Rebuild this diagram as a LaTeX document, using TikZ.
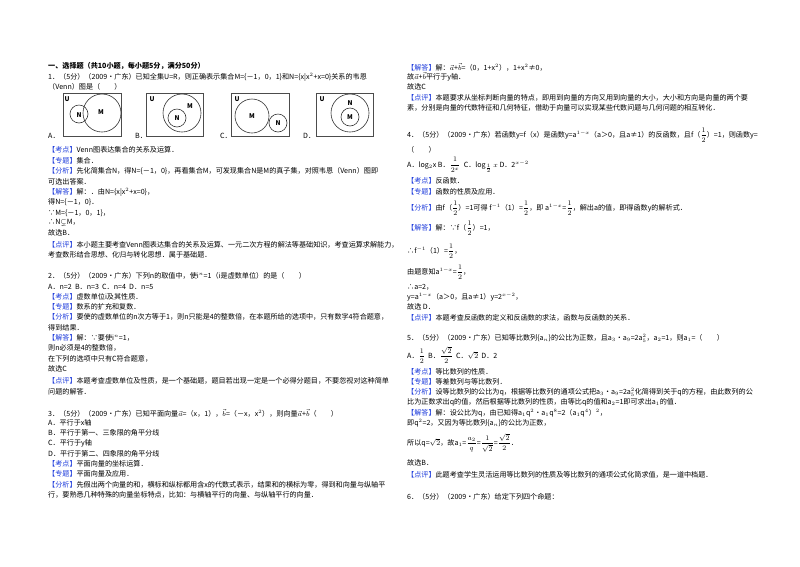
\documentclass[tikz,border=0pt]{standalone}
\usepackage{fontspec}
\setmainfont{Noto Sans CJK SC}
\usepackage{amsmath,amssymb}
\definecolor{kblue}{RGB}{30,60,220}
\newcommand\lb[1]{\textcolor{kblue}{【#1】}}
\newcommand\fs{\fontsize{7.1}{8}\selectfont}
\newcommand\hf{\tfrac{1}{2}}
\begin{document}
\begin{tikzpicture}[x=1pt,y=-1pt,
  t/.style={anchor=west,inner sep=0pt,font=\fs},
  vbox/.style={draw=black!70,line width=0.6pt},
  vc/.style={draw=black!80,line width=0.6pt},
  vl/.style={font=\fontsize{6.5}{7}\selectfont\itshape\bfseries,inner sep=0pt}]
\useasboundingbox[fill=white] (0,0) rectangle (800,566);
% left column
\node[t] (h0) at (48,66) {\bfseries 一、选择题（共10小题，每小题5分，满分50分）};
\node[t] (l1) at (48,77) {1．（5分）（2009•广东）已知全集U=R，则正确表示集合M=\{－1，0，1\}和N=\{x|x$^2$+x=0\}关系的韦恩};
\node[t] (l2) at (48,87) {（Venn）图是（　　）};
% Venn A
\node[t] (la) at (48,136) {A．};
\draw[vbox] (63,93) rectangle (121,136);
\draw[vc] (79,114) circle (9); \draw[vc] (102,113) circle (19);
\node[vl] (ua) at (67,99) {U}; \node[vl] (na) at (79,115) {N}; \node[vl] (ma) at (101,112) {M};
% Venn B
\node[t] (lbb) at (135,136) {B．};
\draw[vbox] (146,93) rectangle (203,136);
\draw[vc] (182,113) circle (19); \draw[vc] (177,118) circle (9);
\node[vl] (ub) at (152,99) {U}; \node[vl] (nb) at (177,118) {N}; \node[vl] (mb) at (190,106) {M};
% Venn C
\node[t] (lc) at (220,136) {C．};
\draw[vbox] (231,93) rectangle (289,136);
\draw[vc] (252,116) circle (17); \draw[vc] (278,123) circle (9);
\node[vl] (uc) at (237,99) {U}; \node[vl] (mc) at (252,116) {M}; \node[vl] (nc) at (278,123) {N};
% Venn D
\node[t] (ld) at (303,136) {D．};
\draw[vbox] (316,93) rectangle (373,136);
\draw[vc] (350,113) circle (19); \draw[vc] (350,117) circle (9);
\node[vl] (ud) at (322,99) {U}; \node[vl] (nd) at (350,103) {N}; \node[vl] (md) at (350,117) {M};
%
\node[t] (l3) at (48,150) {\lb{考点}Venn图表达集合的关系及运算．};
\node[t] (l4) at (48,161) {\lb{专题}集合．};
\node[t] (l5) at (48,171) {\lb{分析}先化简集合N，得N=\{－1，0\}，再看集合M，可发现集合N是M的真子集，对照韦恩（Venn）图即};
\node[t] (l6) at (48,182) {可选出答案．};
\node[t] (l7) at (48,192) {\lb{解答}解：．由N=\{x|x$^2$+x=0\}，};
\node[t] (l8) at (48,202) {得N=\{－1，0\}．};
\node[t] (l9) at (48,213) {∵M=\{－1，0，1\}，};
\node[t] (l10) at (48,223) {∴N$\subsetneq$M，};
\node[t] (l11) at (48,233) {故选B．};
\node[t] (l12) at (48,245) {\lb{点评}本小题主要考查Venn图表达集合的关系及运算、一元二次方程的解法等基础知识，考查运算求解能力，};
\node[t] (l13) at (48,255) {考查数形结合思想、化归与转化思想．属于基础题．};
\node[t] (l14) at (48,276) {2．（5分）（2009•广东）下列n的取值中，使i$^n$=1（i是虚数单位）的是（　　）};
\node[t] (l15) at (48,287) {A．n=2\ \ B．n=3\ \ C．n=4\ \ D．n=5};
\node[t] (l16) at (48,297) {\lb{考点}虚数单位i及其性质．};
\node[t] (l17) at (48,307) {\lb{专题}数系的扩充和复数．};
\node[t] (l18) at (48,317) {\lb{分析}要使的虚数单位的n次方等于1，则n只能是4的整数倍，在本题所给的选项中，只有数字4符合题意，};
\node[t] (l19) at (48,328) {得到结果．};
\node[t] (l20) at (48,338) {\lb{解答}解：∵要使i$^n$=1，};
\node[t] (l21) at (48,348) {则n必须是4的整数倍，};
\node[t] (l22) at (48,359) {在下列的选项中只有C符合题意，};
\node[t] (l23) at (48,369) {故选C};
\node[t] (l24) at (48,381) {\lb{点评}本题考查虚数单位及性质，是一个基础题，题目若出现一定是一个必得分题目，不要忽视对这种简单};
\node[t] (l25) at (48,392) {问题的解答．};
\node[t] (l26) at (48,413) {3．（5分）（2009•广东）已知平面向量$\vec a$=（x，1），$\vec b$=（－x，x$^2$），则向量$\vec a$+$\vec b$（　　）};
\node[t] (l27) at (48,423) {A．平行于x轴};
\node[t] (l28) at (48,433) {B．平行于第一、三象限的角平分线};
\node[t] (l29) at (48,443) {C．平行于y轴};
\node[t] (l30) at (48,454) {D．平行于第二、四象限的角平分线};
\node[t] (l31) at (48,464) {\lb{考点}平面向量的坐标运算．};
\node[t] (l32) at (48,474) {\lb{专题}平面向量及应用．};
\node[t] (l33) at (48,485) {\lb{分析}先假出两个向量的和，横标和纵标都用含x的代数式表示，结果和的横标为零，得到和向量与纵轴平};
\node[t] (l34) at (48,495) {行，要熟悉几种特殊的向量坐标特点，比如：与横轴平行的向量、与纵轴平行的向量．};
% right column
\node[t] (r1) at (407,67) {\lb{解答}解：$\vec a$+$\vec b$=（0，1+x$^2$），1+x$^2$≠0，};
\node[t] (r2) at (407,77) {故$\vec a$+$\vec b$平行于y轴．};
\node[t] (r3) at (407,87) {故选C};
\node[t] (r4) at (407,98) {\lb{点评}本题要求从坐标判断向量的特点，即用到向量的方向又用到向量的大小，大小和方向是向量的两个要};
\node[t] (r5) at (407,108) {素，分别是向量的代数特征和几何特征，借助于向量可以实现某些代数问题与几何问题的相互转化．};
\node[t] (r6) at (407,135) {4．（5分）（2009•广东）若函数y=f（x）是函数y=a$^{1-x}$（a＞0，且a≠1）的反函数，且f（$\dfrac12$）=1，则函数y=};
\node[t] (r7) at (407,150) {（　　）};
\node[t] (r8) at (407,165) {A．log$_2$x B．$\dfrac{1}{2^x}$\ \ C．$\log_{\frac12}x$\ D．2$^{x-2}$};
\node[t] (r9) at (407,181) {\lb{考点}反函数．};
\node[t] (r10) at (407,192) {\lb{专题}函数的性质及应用．};
\node[t] (r11) at (407,208) {\lb{分析}由f（$\dfrac12$）=1可得\ f$^{-1}$（1）=$\dfrac12$，即\ a$^{1-x}$=$\dfrac12$，解出a的值，即得函数y的解析式．};
\node[t] (r12) at (407,228) {\lb{解答}解：∵f（$\dfrac12$）=1，};
\node[t] (r13) at (407,251) {∴f$^{-1}$（1）=$\dfrac12$，};
\node[t] (r14) at (407,272) {由题意知a$^{1-x}$=$\dfrac12$，};
\node[t] (r15) at (407,287) {∴a=2，};
\node[t] (r16) at (407,297) {y=a$^{1-x}$（a＞0，且a≠1）y=2$^{x-2}$，};
\node[t] (r17) at (407,307) {故选\ D．};
\node[t] (r18) at (407,318) {\lb{点评}本题考查反函数的定义和反函数的求法，函数与反函数的关系．};
\node[t] (r19) at (407,338) {5．（5分）（2009•广东）已知等比数列\{a$_n$\}的公比为正数，且a$_3$•a$_9$=2a$_5^2$，a$_2$=1，则a$_1$=（　　）};
\node[t] (r20) at (407,355) {A．$\dfrac12$\ \ B．$\dfrac{\sqrt2}{2}$\ \ C．$\sqrt2$\ \ D．2};
\node[t] (r21) at (407,372) {\lb{考点}等比数列的性质．};
\node[t] (r22) at (407,382) {\lb{专题}等差数列与等比数列．};
\node[t] (r23) at (407,392) {\lb{分析}设等比数列的公比为q，根据等比数列的通项公式把a$_3$•a$_9$=2a$_5^2$化简得到关于q的方程，由此数列的公};
\node[t] (r24) at (407,402) {比为正数求出q的值，然后根据等比数列的性质，由等比q的值和a$_2$=1即可求出a$_1$的值．};
\node[t] (r25) at (407,413) {\lb{解答}解：设公比为q，由已知得a$_1$q$^2$•a$_1$q$^8$=2（a$_1$q$^4$）$^2$，};
\node[t] (r26) at (407,423) {即q$^2$=2，又因为等比数列\{a$_n$\}的公比为正数，};
\node[t] (r27) at (407,443) {所以q=$\sqrt2$，故a$_1$=$\dfrac{a_2}{q}$=$\dfrac{1}{\sqrt2}$=$\dfrac{\sqrt2}{2}$．};
\node[t] (r28) at (407,463) {故选B．};
\node[t] (r29) at (407,475) {\lb{点评}此题考查学生灵活运用等比数列的性质及等比数列的通项公式化简求值，是一道中档题．};
\node[t] (r30) at (407,497) {6．（5分）（2009•广东）给定下列四个命题：};
\end{tikzpicture}
\end{document}
